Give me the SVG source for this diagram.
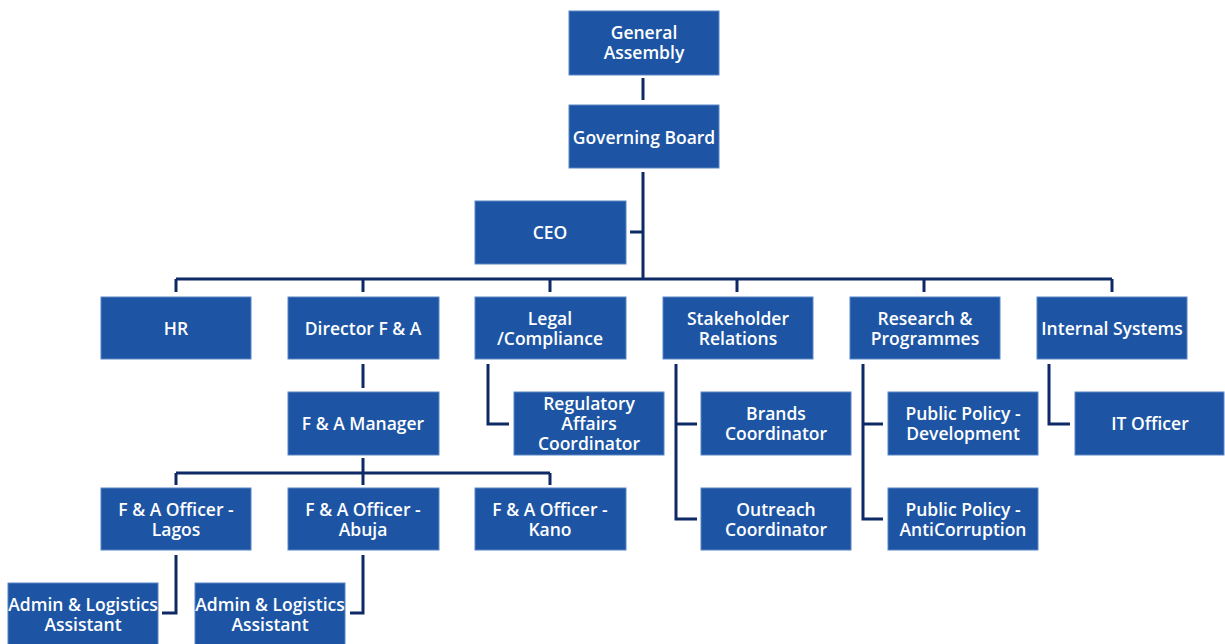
<svg xmlns="http://www.w3.org/2000/svg" width="1225" height="644" viewBox="0 0 1225 644">
<style>
.b{fill:#1D55A4;stroke:#5B86C6;stroke-width:1}
.t{fill:#FFFFFF;font-family:"Open Sans","Noto Sans",sans-serif;font-weight:600;font-size:17.5px;text-anchor:middle;dominant-baseline:central}
.c{fill:none;stroke:#0E2A66;stroke-width:3}
</style>
<rect width="1225" height="644" fill="#FFFFFF"/>
<g id="connectors">
<path class="c" d="M643 78V100"/>
<path class="c" d="M643 172V279M630 232H643"/>
<path class="c" d="M176 279H1112M176 279V292M363 279V292M550 279V292M737 279V292M924 279V292M1112 279V292"/>
<path class="c" d="M363 364V388"/>
<path class="c" d="M363 458V473M176 473H550M176 473V485M363 473V485M550 473V485"/>
<path class="c" d="M176 555V613H162"/>
<path class="c" d="M363 555V613H350"/>
<path class="c" d="M488 364V424H509"/>
<path class="c" d="M676 364V519H697M676 424H697"/>
<path class="c" d="M863 364V519H883M863 424H883"/>
<path class="c" d="M1049 364V424H1070"/>
</g>
<g id="general-assembly"><rect class="b" x="569" y="11" width="150" height="64"/><text class="t" x="644" y="32">General</text><text class="t" x="644" y="52">Assembly</text></g>
<g id="governing-board"><rect class="b" x="569" y="105" width="150" height="63"/><text class="t" x="644" y="137">Governing Board</text></g>
<g id="ceo"><rect class="b" x="475" y="201" width="151" height="63"/><text class="t" x="550" y="232">CEO</text></g>
<g id="hr"><rect class="b" x="101" y="297" width="150" height="62"/><text class="t" x="176" y="328">HR</text></g>
<g id="director-fa"><rect class="b" x="288" y="297" width="151" height="62"/><text class="t" x="363" y="328">Director F &amp; A</text></g>
<g id="legal"><rect class="b" x="475" y="297" width="151" height="62"/><text class="t" x="550" y="318">Legal</text><text class="t" x="550" y="338">/Compliance</text></g>
<g id="stakeholder"><rect class="b" x="663" y="297" width="150" height="62"/><text class="t" x="738" y="318">Stakeholder</text><text class="t" x="738" y="338">Relations</text></g>
<g id="research"><rect class="b" x="850" y="297" width="150" height="62"/><text class="t" x="925" y="318">Research &amp;</text><text class="t" x="925" y="338">Programmes</text></g>
<g id="internal"><rect class="b" x="1037" y="297" width="150" height="62"/><text class="t" x="1112" y="328">Internal Systems</text></g>
<g id="fa-manager"><rect class="b" x="288" y="392" width="151" height="63"/><text class="t" x="363" y="423">F &amp; A Manager</text></g>
<g id="regulatory"><rect class="b" x="514" y="392" width="150" height="63"/><text class="t" x="589" y="403">Regulatory</text><text class="t" x="589" y="423">Affairs</text><text class="t" x="589" y="443">Coordinator</text></g>
<g id="brands"><rect class="b" x="701" y="392" width="150" height="63"/><text class="t" x="776" y="413">Brands</text><text class="t" x="776" y="433">Coordinator</text></g>
<g id="pp-dev"><rect class="b" x="888" y="392" width="150" height="63"/><text class="t" x="963" y="413">Public Policy -</text><text class="t" x="963" y="433">Development</text></g>
<g id="it-officer"><rect class="b" x="1075" y="392" width="149" height="63"/><text class="t" x="1150" y="423">IT  Officer</text></g>
<g id="fa-lagos"><rect class="b" x="101" y="488" width="150" height="62"/><text class="t" x="176" y="509">F &amp; A Officer -</text><text class="t" x="176" y="529">Lagos</text></g>
<g id="fa-abuja"><rect class="b" x="288" y="488" width="151" height="62"/><text class="t" x="363" y="509">F &amp; A Officer -</text><text class="t" x="363" y="529">Abuja</text></g>
<g id="fa-kano"><rect class="b" x="475" y="488" width="151" height="62"/><text class="t" x="550" y="509">F &amp; A Officer -</text><text class="t" x="550" y="529">Kano</text></g>
<g id="outreach"><rect class="b" x="701" y="488" width="150" height="62"/><text class="t" x="776" y="509">Outreach</text><text class="t" x="776" y="529">Coordinator</text></g>
<g id="pp-anti"><rect class="b" x="888" y="488" width="150" height="62"/><text class="t" x="963" y="509">Public Policy -</text><text class="t" x="963" y="529">AntiCorruption</text></g>
<g id="admin-1"><rect class="b" x="8" y="583" width="150" height="70"/><text class="t" x="83" y="604">Admin &amp; Logistics</text><text class="t" x="83" y="624">Assistant</text></g>
<g id="admin-2"><rect class="b" x="195" y="583" width="150" height="70"/><text class="t" x="270" y="604">Admin &amp; Logistics</text><text class="t" x="270" y="624">Assistant</text></g>
</svg>
